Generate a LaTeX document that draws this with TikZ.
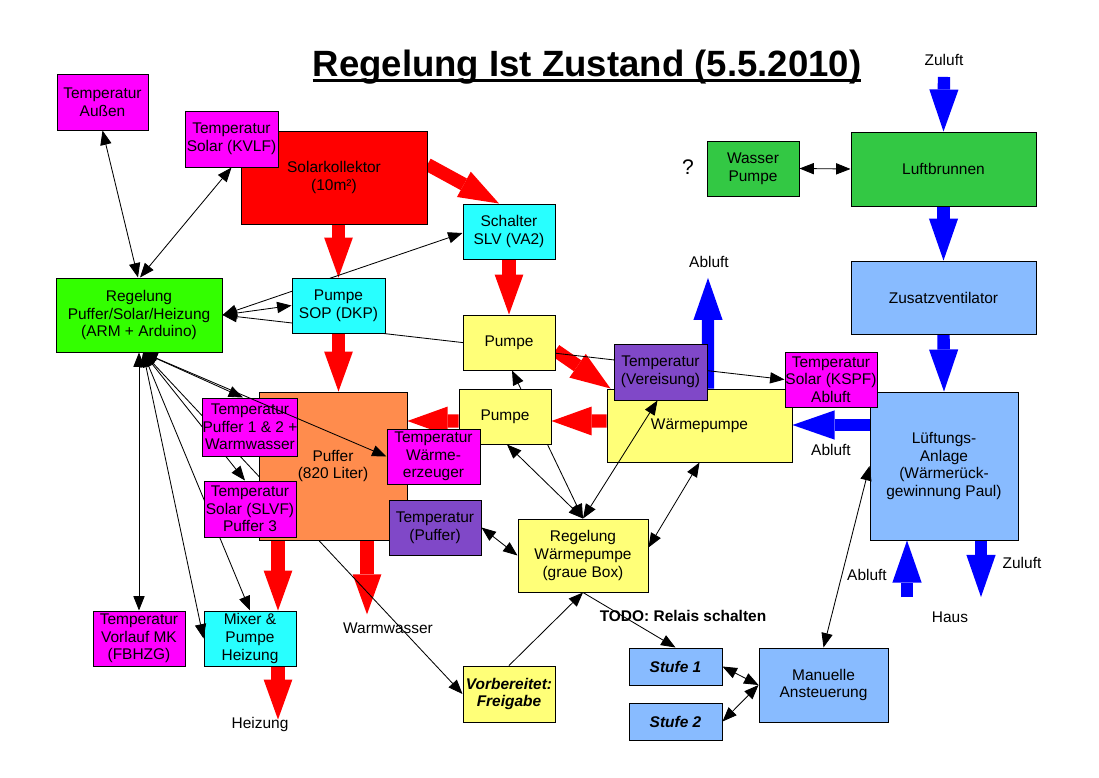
\documentclass[tikz,border=0pt]{standalone}
\usepackage{fontspec}
\setmainfont{Liberation Sans}
\usepackage{tikz}
\usetikzlibrary{positioning,arrows.meta,calc,backgrounds}

\definecolor{tempmag}{RGB}{255,0,255}
\definecolor{solred}{RGB}{255,0,0}
\definecolor{pumpcyan}{RGB}{40,255,255}
\definecolor{ctrlgreen}{RGB}{51,255,0}
\definecolor{wpyellow}{RGB}{255,255,120}
\definecolor{puforange}{RGB}{255,140,77}
\definecolor{icepurple}{RGB}{128,72,200}
\definecolor{airgreen}{RGB}{51,200,68}
\definecolor{airblue}{RGB}{136,187,255}
\definecolor{flowblue}{RGB}{0,0,255}

\newcommand{\dickunter}[1]{\setbox0\hbox{#1}\rlap{\rule[-4.2pt]{\wd0}{2pt}}\box0}

\tikzset{
  sz/.style 2 args={minimum width=#1*0.025cm, minimum height=#2*0.025cm}
}

\begin{document}
\begin{tikzpicture}[
  x=0.025cm, y=-0.025cm,
  font=\fontsize{11}{12.6}\selectfont,
  >={Triangle[length=3.6mm, width=2.8mm]},
  box/.style={draw, line width=0.7pt, inner sep=0pt, align=center},
  temp/.style={box, fill=tempmag},
  pumpc/.style={box, fill=pumpcyan},
  yel/.style={box, fill=wpyellow},
  purp/.style={box, fill=icepurple},
  luft/.style={box, fill=airgreen},
  lblue/.style={box, fill=airblue},
  stufe/.style={lblue, font=\fontsize{11}{12.6}\selectfont\bfseries\itshape},
  lbl/.style={inner sep=0pt},
  headline/.style={inner sep=0pt, font=\fontsize{26}{30}\selectfont\bfseries},
  wire/.style={line width=0.6pt},
  redarr/.style={draw=solred, line width=3.3mm, -{Triangle[length=10mm, width=7.2mm, line width=0pt]}},
  bluearr/.style={draw=flowblue, line width=3.1mm, -{Triangle[length=10.5mm, width=7.3mm, line width=0pt]}}
]
\useasboundingbox (0,0) rectangle (1099,777);

\node[headline, anchor=base] (titel) at (587,76) {\dickunter{Regelung Ist Zustand (5.5.2010)}};

% Solar / Puffer / Heizung
\node[temp, sz={91}{56}] (tAussen) at (102.5,102) {Temperatur\\Außen};
\node[box, fill=solred, sz={186}{93}] (solar) at (334,177.5) {Solarkollektor\\(10m²)};
\node[temp, sz={93}{56}] (tKVLF) at (231.5,139) {Temperatur\\Solar (KVLF)};
\node[pumpc, sz={92}{55}] (schalter) at (509,231.5) {Schalter\\SLV (VA2)};
\node[box, fill=ctrlgreen, sz={166}{74}] (regPSH) at (139,315) {Regelung\\Puffer/Solar/Heizung\\(ARM + Arduino)};
\node[pumpc, sz={93}{55}] (pumpeSOP) at (338.5,305.5) {Pumpe\\SOP (DKP)};
\node[yel, sz={92}{55}] (pumpeO) at (509,342.5) {Pumpe};
\node[box, fill=puforange, sz={148}{148}] (puffer) at (333,466) {Puffer\\(820 Liter)};
\node[temp, sz={92}{58}] (tPuf12) at (250,427) {Temperatur\\Puffer 1 \& 2 +\\Warmwasser};
\node[yel, sz={92}{55}] (pumpeU) at (505,416.5) {Pumpe};
\node[temp, sz={93}{55}] (tWE) at (433.5,456.5) {Temperatur\\Wärme-\\erzeuger};
\node[temp, sz={92}{56}] (tSLVF) at (250,509) {Temperatur\\Solar (SLVF)\\Puffer 3};
\node[purp, sz={92}{55}] (tPuf) at (435,527.5) {Temperatur\\(Puffer)};
\node[temp, sz={92}{55}] (tVorlauf) at (139,638.5) {Temperatur\\Vorlauf MK\\(FBHZG)};
\node[pumpc, sz={92}{55}] (mixer) at (250,638.5) {Mixer \&\\Pumpe\\Heizung};

% Waermepumpe / Lueftung
\node[yel, sz={185}{73}] (wp) at (699.5,425.5) {Wärmepumpe};
\node[purp, sz={93}{56}] (tVereis) at (660.5,372) {Temperatur\\(Vereisung)};
\node[yel, sz={130}{73}] (regWP) at (583,555.5) {Regelung\\Wärmepumpe\\(graue Box)};
\node[yel, sz={92}{56}, font=\fontsize{11}{12.6}\selectfont\bfseries\itshape] (freigabe) at (509,694) {Vorbereitet:\\Freigabe};
\node[luft, sz={92}{55}] (wasserP) at (753,168.5) {Wasser\\Pumpe};
\node[luft, sz={185}{74}] (luftb) at (943.5,169) {Luftbrunnen};
\node[lblue, sz={185}{73}] (zusatz) at (943.5,297.5) {Zusatzventilator};
\node[lblue, sz={148}{148}] (lueftung) at (944,466) {Lüftungs-\\Anlage\\(Wärmerück-\\gewinnung Paul)};
\node[temp, sz={92}{55}] (tKSPF) at (831,379.5) {Temperatur\\Solar (KSPF)\\Abluft};
\node[stufe, sz={93}{37}] (stufe1) at (675.5,666.5) {Stufe 1};
\node[stufe, sz={93}{37}] (stufe2) at (675.5,721.5) {Stufe 2};
\node[lblue, sz={129}{74}] (manuell) at (823.5,685) {Manuelle\\Ansteuerung};

% labels
\node[lbl, font=\fontsize{15}{18}\selectfont] (frage) at (688,167) {?};
\node[lbl] (zuluftO) at (944,60) {Zuluft};
\node[lbl] (abluftWP) at (709,262) {Abluft};
\node[lbl] (abluftLA) at (831,450) {Abluft};
\node[lbl] (zuluftH) at (1022,563) {Zuluft};
\node[lbl] (haus) at (950,617) {Haus};
\node[lbl] (abluftM) at (867,575) {Abluft};
\node[lbl, font=\fontsize{11}{12.6}\selectfont\bfseries] (todo) at (683,616) {TODO: Relais schalten};
\node[lbl] (warmwasser) at (388,628) {Warmwasser};
\node[lbl] (heizung) at (260,724) {Heizung};
\coordinate (hausIn) at (907,597);
\coordinate (hausOut) at (981,597);

\begin{scope}[on background layer]
% water / air flows
\draw[redarr] (solar.south -| pumpeSOP.north) -- (pumpeSOP.north);
\draw[redarr] (pumpeSOP.south) -- (pumpeSOP.south |- puffer.north);
\draw[redarr] ($(solar.east)+(0,-13)$) -- ($(schalter.north)+(-10,0)$);
\draw[redarr] (schalter.south) -- (pumpeO.north);
\draw[redarr] ($(pumpeO.east)+(0,8)$) -- ($(wp.north west)+(4,0)$);
\draw[redarr] ($(wp.west)+(0,-4.5)$) -- ($(pumpeU.east)+(0,4.5)$);
\draw[redarr] ($(pumpeU.west)+(0,4.5)$) -- ($(puffer.east)+(0,-45)$);
\draw[redarr] ($(puffer.south)+(-55,0)$) -- ($(mixer.north)+(28,0)$);
\draw[redarr] ($(puffer.south)+(34,0)$) -- ($(warmwasser.north)+(-21,-8)$);
\draw[redarr] ($(mixer.south)+(28,0)$) -- ($(heizung.north)+(18,3)$);
\draw[bluearr] ($(zuluftO.south)+(0,11)$) -- (luftb.north);
\draw[bluearr] (luftb.south) -- (zusatz.north);
\draw[bluearr] (zusatz.south) -- (lueftung.north);
\draw[bluearr] ($(wp.north)+(8.5,0)$) -- ($(abluftWP.south)+(-1,10)$);
\draw[bluearr] ($(lueftung.west)+(0,-41)$) -- ($(wp.east)+(0,-0.5)$);
\draw[bluearr] (hausIn) -- ($(lueftung.south)+(-37,0)$);
\draw[bluearr] ($(lueftung.south)+(37,0)$) -- (hausOut);
% signal lines behind the boxes
\draw[wire, <->] (regPSH.east) -- ($(schalter.west)+(0,1.5)$);
\draw[wire, <->] (regPSH.east) -- (tKSPF.west);
\draw[wire, <->] ($(regPSH.south)+(4,0)$) -- (freigabe.west);
\draw[wire, <->] ($(regPSH.south)+(4,0)$) -- (mixer.north);
\draw[wire, <->] ($(regPSH.south)+(4,0)$) -- ($(tSLVF.north)+(-5,0)$);
\draw[wire, <->] (regWP.north) -- ($(pumpeO.south)+(3,0)$);
\end{scope}

% signal lines
\draw[wire, <->] (tAussen.south) -- ($(regPSH.north)+(-1,0)$);
\draw[wire, <->] (tKVLF.south) -- ($(regPSH.north)+(1,0)$);
\draw[wire, <->] (regPSH.east) -- (pumpeSOP.west);
\draw[wire, <->] (regPSH.south) -- (tVorlauf.north);
\draw[wire, <->] ($(regPSH.south)+(4,0)$) -- (mixer.west);
\draw[wire, <->] ($(regPSH.south)+(4,0)$) -- ($(tPuf12.north)+(-7,0)$);
\draw[wire, <->] ($(regPSH.south)+(4,0)$) -- (tWE.west);
\draw[wire, <->] (regWP.north) -- ($(pumpeU.south)+(2,0)$);
\draw[wire, <->] (regWP.north) -- ($(tVereis.south)+(-3,0)$);
\draw[wire, <->] ($(regWP.east)+(0,-8)$) -- (wp.south);
\draw[wire, <->] (tPuf.east) -- (regWP.west);
\draw[wire, ->] (freigabe.north) -- (regWP.south);
\draw[wire, ->] (regWP.south) -- (stufe1.north);
\draw[wire, <->] (stufe1.east) -- (manuell.west);
\draw[wire, <->] (stufe2.east) -- (manuell.west);
\draw[wire, <->] (manuell.north) -- (lueftung.west);
\draw[wire, <->] (wasserP.east) -- (luftb.west);
\end{tikzpicture}
\end{document}
